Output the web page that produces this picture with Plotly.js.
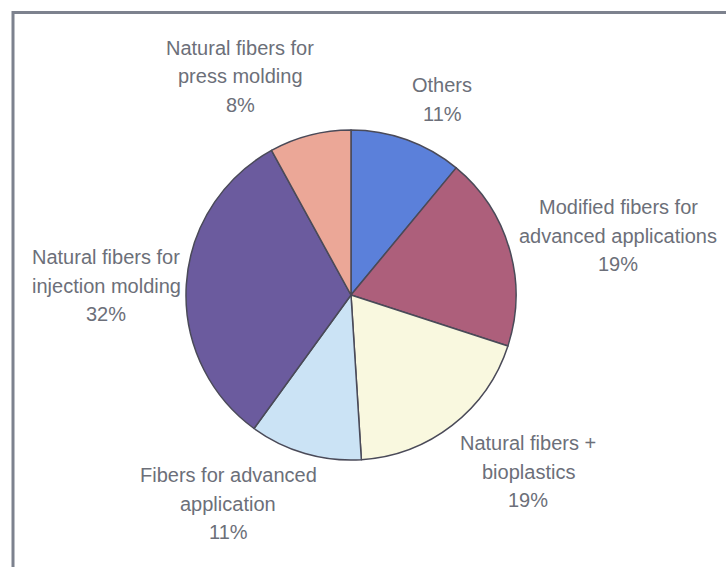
<!DOCTYPE html>
<html>
<head>
<meta charset="utf-8">
<script src="https://cdn.plot.ly/plotly-3.0.1.min.js"></script>
<style>
html,body{margin:0;padding:0;background:#fff;}
#chart{width:726px;height:567px;}
</style>
</head>
<body>
<div id="chart"></div>
<script>
// Data
var categories = [
  "Others",
  "Modified fibers for<br>advanced applications",
  "Natural fibers +<br>bioplastics",
  "Fibers for advanced<br>application",
  "Natural fibers for<br>injection molding",
  "Natural fibers for<br>press molding"
];
var shares = [11, 19, 19, 11, 32, 8];
var colors = ["#5b80da", "#ad5f7b", "#f9f8df", "#cbe3f5", "#6b5b9e", "#eba797"];

// Layout (pixel positions of label block centers, first line y)
var W = 726, H = 567;
var labelPos = [
  [442, 85],
  [618, 207],
  [528, 443],
  [228, 475],
  [106, 257],
  [240, 48]
];
var lineGap = 28.5;

var annotations = [];
categories.forEach(function(cat, i){
  var lines = cat.split("<br>").concat([shares[i] + "%"]);
  lines.forEach(function(t, j){
    annotations.push({
      xref: "paper", yref: "paper",
      x: labelPos[i][0] / W,
      y: 1 - (labelPos[i][1] + j * lineGap) / H,
      xanchor: "center", yanchor: "middle",
      text: t, showarrow: false,
      font: {family: "Liberation Sans, Arial, sans-serif", size: 20, color: "#6c6f79"}
    });
  });
});

var cx = 351, cy = 295, R = 165;
var trace = {
  type: "pie",
  labels: categories,
  values: shares,
  sort: false,
  direction: "clockwise",
  rotation: 0,
  textinfo: "none",
  hoverinfo: "label+percent",
  marker: {colors: colors, line: {color: "#4a4a58", width: 1.5}},
  domain: {x: [(cx - R) / W, (cx + R) / W], y: [1 - (cy + R) / H, 1 - (cy - R) / H]},
  showlegend: false
};

var layout = {
  width: W, height: H,
  margin: {l: 0, r: 0, t: 0, b: 0},
  paper_bgcolor: "#ffffff",
  plot_bgcolor: "#ffffff",
  showlegend: false,
  annotations: annotations,
  shapes: [{
    type: "path", xref: "paper", yref: "paper",
    path: "M " + (13/W) + " 0 L " + (13/W) + " " + (1 - 12.5/H) + " L 1 " + (1 - 12.5/H),
    line: {color: "#7d828e", width: 3}
  }]
};

Plotly.newPlot("chart", [trace], layout, {displayModeBar: false, staticPlot: true});
</script>
</body>
</html>
